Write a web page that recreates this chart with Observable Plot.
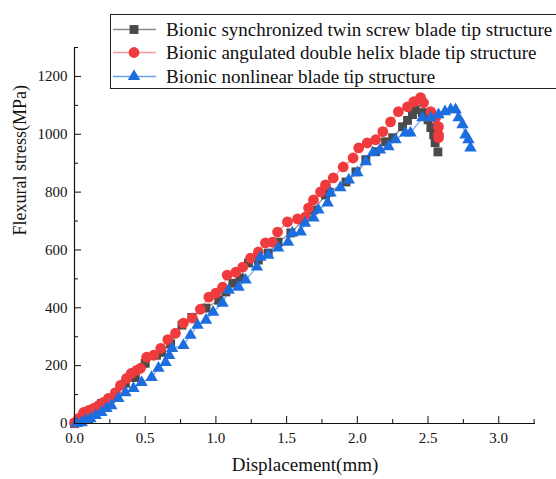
<!DOCTYPE html>
<html>
<head>
<meta charset="utf-8">
<script src="https://cdn.jsdelivr.net/npm/d3@7"></script>
<script src="https://cdn.jsdelivr.net/npm/@observablehq/plot@0.6"></script>
<style>
  html, body { margin: 0; padding: 0; background: #fff; overflow: hidden; }
  #wrap { position: relative; width: 556px; height: 479px; font-family: "Liberation Serif", "Times New Roman", serif; }
  #legend { position: absolute; left: 110px; top: 14px; width: 470px; height: 75px; border: 1px solid #222; background: #fff; box-sizing: border-box; }
  .row { position: absolute; left: 0; height: 23px; display: flex; align-items: center; white-space: nowrap; font-family: "Liberation Serif", "Times New Roman", serif; font-size: 19px; color: #111; }
  .row svg { display: block; margin-right: 7px; }
</style>
</head>
<body>
<div id="wrap"><div id="legend"></div></div>
<script>
// ---- data (Displacement mm, Flexural stress MPa) ----
const seriesNames = [
  "Bionic synchronized twin screw blade tip structure",
  "Bionic angulated double helix blade tip structure",
  "Bionic nonlinear blade tip structure"
];
const twinDisp = [0.00,0.03,0.06,0.10,0.15,0.19,0.255,0.29,0.36,0.43,0.50,0.58,0.615,0.68,0.76,0.83,0.93,1.02,1.07,1.12,1.17,1.23,1.30,1.37,1.44,1.53,1.62,1.69,1.775,1.80,1.92,1.99,2.06,2.13,2.20,2.25,2.32,2.355,2.39,2.41,2.46,2.50,2.52,2.54,2.55,2.57];
const twinStress = [0,5,12,17,40,69,87,104,139,159,208,236,246,275,340,367,399,426,455,485,503,555,565,589,627,659,704,738,790,800,835,870,912,940,974,988,1026,1048,1068,1085,1075,1050,1023,998,971,939];
const helixDisp = [0.00,0.03,0.064,0.10,0.134,0.17,0.205,0.24,0.29,0.325,0.368,0.40,0.44,0.467,0.51,0.56,0.61,0.66,0.714,0.77,0.834,0.89,0.95,1.00,1.047,1.08,1.14,1.19,1.245,1.30,1.35,1.40,1.436,1.506,1.577,1.634,1.655,1.69,1.74,1.775,1.83,1.90,1.97,2.01,2.07,2.13,2.18,2.235,2.29,2.355,2.40,2.447,2.468,2.52,2.553,2.574,2.574,2.574];
const helixStress = [3,18,38,45,52,62,73,87,107,132,156,173,184,191,229,236,260,290,312,347,364,395,437,451,471,513,523,541,572,593,624,627,662,697,707,714,745,773,801,825,849,887,918,953,970,981,1009,1043,1078,1095,1113,1127,1109,1078,1057,1026,998,988];
const nonlinDisp = [0.014,0.05,0.08,0.113,0.15,0.19,0.226,0.26,0.31,0.36,0.417,0.474,0.545,0.594,0.644,0.67,0.69,0.77,0.82,0.87,0.93,0.98,1.047,1.09,1.16,1.21,1.29,1.315,1.37,1.44,1.51,1.54,1.60,1.63,1.69,1.725,1.79,1.81,1.88,1.94,2.00,2.06,2.11,2.16,2.22,2.27,2.34,2.376,2.46,2.52,2.574,2.62,2.66,2.695,2.716,2.744,2.765,2.786,2.80];
const nonlinStress = [0,3,12,17,28,38,52,62,87,107,121,142,159,191,211,235,260,270,305,340,357,385,416,461,471,496,541,575,582,607,627,659,662,693,711,738,763,797,815,842,867,905,936,946,957,981,1005,1005,1057,1057,1068,1078,1085,1085,1057,1033,998,981,953];

const xTicks = [0, 0.5, 1.0, 1.5, 2.0, 2.5, 3.0];
const xMinorTicks = [0.25, 0.75, 1.25, 1.75, 2.25, 2.75, 3.25];
const yTicks = [0, 200, 400, 600, 800, 1000, 1200];
const yMinorTicks = [100, 300, 500, 700, 900, 1100, 1300];
const xTitle = "Displacement(mm)";
const yTitle = "Flexural stress(MPa)";

const styles = [
  {line: "#8a8a8a", mark: "#4a4a4a", symbol: "square", r: 5},
  {line: "#f49a9a", mark: "#ef3b3d", symbol: "circle", r: 5.4},
  {line: "#6aa0ee", mark: "#1c6ee0", symbol: "triangle", r: 4.6}
];

const toRows = (xs, ys) => xs.map((d, i) => ({d, s: ys[i]}));
const sets = [toRows(twinDisp, twinStress), toRows(helixDisp, helixStress), toRows(nonlinDisp, nonlinStress)];

const marks = [];
sets.forEach((rows, i) => {
  const st = styles[i];
  marks.push(Plot.line(rows, {x: "d", y: "s", stroke: st.line, strokeWidth: 1.2}));
});
sets.forEach((rows, i) => {
  const st = styles[i];
  marks.push(Plot.dot(rows, {x: "d", y: "s", symbol: () => st.symbol, fill: st.mark, stroke: "none", r: st.r}));
});

const chart = Plot.plot({
  width: 556,
  height: 479,
  marginLeft: 74,
  marginRight: 21,
  marginTop: 47,
  marginBottom: 56,
  style: {fontFamily: "'Liberation Serif', 'Times New Roman', serif", fontSize: "15px", color: "#111", background: "transparent"},
  x: {domain: [0, 3.26]},
  y: {domain: [0, 1300]},
  symbol: {type: "identity"},
  marks: [
    ...marks,
    Plot.axisX({ticks: xTicks, tickFormat: d3.format(".1f"), tickSize: -7, tickPadding: 16, label: null, fontSize: 15}),
    Plot.axisX({ticks: xMinorTicks, tickFormat: () => "", tickSize: -4, label: null}),
    Plot.axisY({ticks: yTicks, tickFormat: d => String(d), tickSize: -7, tickPadding: 14, label: null, fontSize: 15}),
    Plot.axisY({ticks: yMinorTicks, tickFormat: () => "", tickSize: -4, label: null}),
    Plot.ruleX([0], {stroke: "#111", strokeWidth: 1.2}),
    Plot.ruleY([0], {stroke: "#111", strokeWidth: 1.2}),
    Plot.text([yTitle], {frameAnchor: "left", dx: -54, rotate: -90, fontSize: 18, fill: "#111"}),
    Plot.text([xTitle], {frameAnchor: "bottom", dy: 47, fontSize: 19, fill: "#111"})
  ]
});
document.getElementById("wrap").prepend(chart);

// legend
const legend = document.getElementById("legend");
const rowTops = [3, 26, 50];
seriesNames.forEach((name, i) => {
  const st = styles[i];
  const row = document.createElement("div");
  row.className = "row";
  row.style.top = rowTops[i] + "px";
  const svg = d3.create("svg").attr("width", 48).attr("height", 23);
  svg.append("line").attr("x1", 2).attr("x2", 45).attr("y1", 11.5).attr("y2", 11.5)
    .attr("stroke", st.line).attr("stroke-width", 1.5);
  const sym = st.symbol === "square" ? d3.symbolSquare : st.symbol === "circle" ? d3.symbolCircle : d3.symbolTriangle;
  svg.append("path").attr("transform", "translate(23,11.5)")
    .attr("d", d3.symbol(sym, Math.PI * st.r * st.r)()).attr("fill", st.mark);
  row.appendChild(svg.node());
  const span = document.createElement("span");
  span.textContent = name;
  row.appendChild(span);
  legend.appendChild(row);
});
</script>
</body>
</html>
